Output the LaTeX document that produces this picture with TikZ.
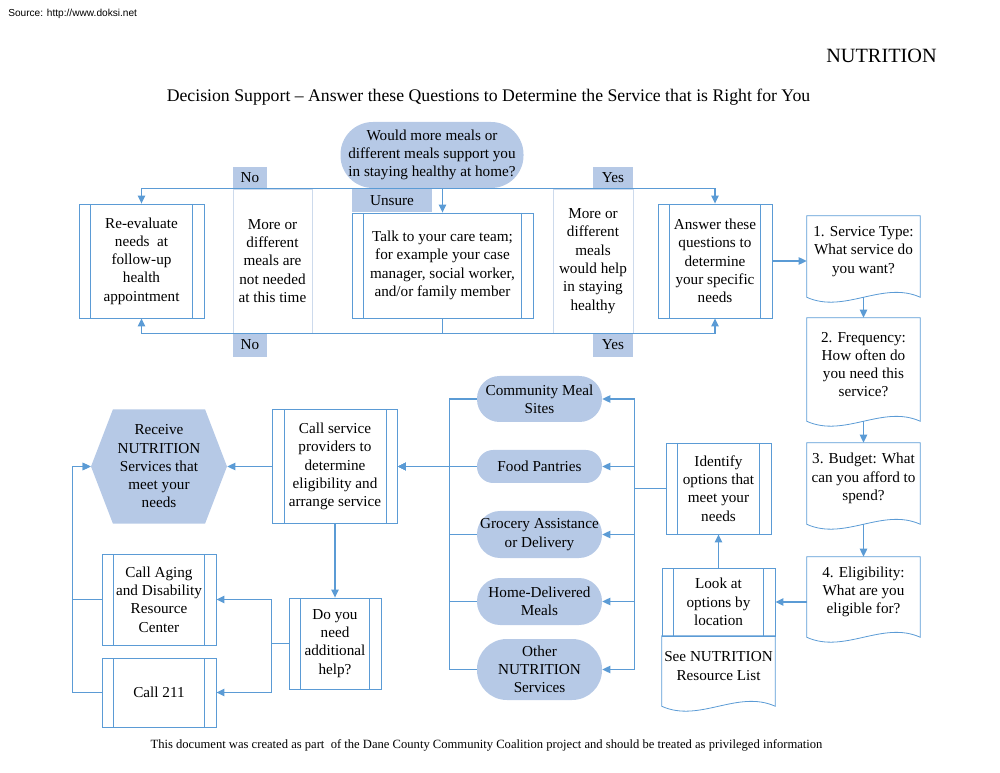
\documentclass[tikz,border=0pt]{standalone}
\usepackage{fontspec}
\setmainfont{Liberation Serif}
\newfontfamily\sourcefont{Liberation Sans}
\usetikzlibrary{shapes.symbols,arrows.meta,calc}
\definecolor{line_blue}{RGB}{91,155,213}
\definecolor{fill_blue}{RGB}{182,201,230}
\definecolor{col_blue}{RGB}{205,218,236}
\newcommand\pxu{0.75pt}
% document shape: frame plus wavy bottom
\newcommand\docwave[1]{%
  \draw[line_blue, line width=0.6pt] (#1.north west) -- (#1.north east)
    -- ([yshift=-10*\pxu]#1.south east)
    .. controls ([xshift=-37.7*\pxu,yshift=7*\pxu]#1.south east)
    and ([xshift=37.7*\pxu,yshift=-27*\pxu]#1.south west)
    .. ([yshift=-10*\pxu]#1.south west) -- cycle;}
\begin{document}
\begin{tikzpicture}[
  x=0.75pt, y=-0.75pt,
  every node/.style={
    font=\fontsize{11.4}{13.7}\selectfont,
    align=center,
    inner sep=0pt
  },
  proc_box/.style 2 args={
    draw=line_blue,
    line width=0.6pt,
    fill=white,
    minimum width=#1*\pxu,
    minimum height=#2*\pxu,
    path picture={
      \draw[line_blue, line width=0.6pt]
        ([xshift=11.5*\pxu]path picture bounding box.north west) -- ([xshift=11.5*\pxu]path picture bounding box.south west)
        ([xshift=-11.5*\pxu]path picture bounding box.north east) -- ([xshift=-11.5*\pxu]path picture bounding box.south east);
    }
  },
  doc_frame/.style 2 args={
    minimum width=#1*\pxu,
    minimum height=#2*\pxu
  },
  option_oval/.style 2 args={
    fill=fill_blue,
    minimum width=#1*\pxu,
    minimum height=#2*\pxu,
    rounded corners=#2*0.49*\pxu
  },
  note_col/.style 2 args={
    draw=col_blue,
    line width=0.5pt,
    minimum width=#1*\pxu,
    minimum height=#2*\pxu
  },
  answer_tag/.style 2 args={
    fill=fill_blue,
    minimum width=#1*\pxu,
    minimum height=#2*\pxu
  },
  hexagon/.style={
    signal,
    signal to=west and east,
    signal pointer angle=138,
    fill=fill_blue,
    minimum width=136*\pxu,
    minimum height=114*\pxu
  },
  flow_arrow/.style={
    draw=line_blue,
    line width=1pt,
    -{Triangle[length=6pt,width=5.5pt]}
  }
]%
\useasboundingbox (0,0) rectangle (1000,773);

\node[font=\sourcefont\fontsize{7.6}{9}\selectfont, anchor=west] (source) at (8,14) {Source: http://www.doksi.net};
\node[font=\fontsize{15.2}{18}\selectfont] (title) at (881.5,56) {NUTRITION};
\node[font=\fontsize{13.3}{16}\selectfont] (subtitle) at (488.5,97) {Decision Support – Answer these Questions to Determine the Service that is Right for You};
\node[font=\fontsize{9.45}{11}\selectfont] (footer) at (486.5,745) {This document was created as part~ of the Dane County Community Coalition project and should be treated as privileged information};

% top row
\node[option_oval={183}{66}] (question) at (432,155) {Would more meals or\\different meals support you\\in staying healthy at home?};
\node[note_col={79}{144}] (no_meals) at (272.5,261) {More or\\different\\meals are\\not needed\\at this time};
\node[note_col={80}{144}] (yes_meals) at (593,261) {More or\\different\\meals\\would help\\in staying\\healthy};
\node[proc_box={125}{114}] (reevaluate) at (141.5,261) {Re-evaluate\\needs~ at\\follow-up\\health\\appointment};
\node[proc_box={181}{105}] (care_team) at (442.5,265.5) {Talk to your care team;\\for example your case\\manager, social worker,\\and/or family member};
\node[proc_box={114}{114}] (answer) at (715,261) {Answer these\\questions to\\determine\\your specific\\needs};

\node[answer_tag={34}{22}] (no_top) at (250,178) {No};
\node[answer_tag={40}{22}] (yes_top) at (613,178) {Yes};
\node[answer_tag={80}{23}] (unsure) at (392,200.5) {Unsure};
\node[answer_tag={34}{24}] (no_bottom) at (250,345) {No};
\node[answer_tag={40}{24}] (yes_bottom) at (613,345) {Yes};

% questions on the right
\node[doc_frame={113}{71}] (service_type) at (863.5,251.5) {1. Service Type:\\What service do\\you want?};
\node[doc_frame={113}{93}] (frequency) at (863.5,364.5) {2. Frequency:\\How often do\\you need this\\service?};
\node[doc_frame={113}{71}] (budget) at (863.5,478.5) {3. Budget: What\\can you afford to\\spend?};
\node[doc_frame={113}{70}] (eligibility) at (863.5,592) {4. Eligibility:\\What are you\\eligible for?};
\docwave{service_type}
\docwave{frequency}
\docwave{budget}
\docwave{eligibility}

\node[proc_box={105}{91}] (identify) at (718.5,488.5) {Identify\\options that\\meet your\\needs};
\node[proc_box={113}{68}] (by_location) at (718.5,602) {Look at\\options by\\location};
\node[doc_frame={113}{60}] (resource_list) at (718.5,666) {See NUTRITION\\Resource List};
\docwave{resource_list}

% service options
\node[option_oval={125}{46}] (meal_sites) at (539.5,399) {Community Meal\\Sites};
\node[option_oval={125}{33}] (pantries) at (539.5,466.5) {Food Pantries};
\node[option_oval={125}{47}] (grocery) at (539.5,534.5) {Grocery Assistance\\or Delivery};
\node[option_oval={125}{47}] (home_meals) at (539.5,601.5) {Home-Delivered\\Meals};
\node[option_oval={125}{61}] (other) at (539.5,669.5) {Other\\NUTRITION\\Services};

% bottom left
\node[proc_box={125}{114}] (call_providers) at (335,466.5) {Call service\\providers to\\determine\\eligibility and\\arrange service};
\node[hexagon] (receive) at (159,466.5) {Receive\\NUTRITION\\Services that\\meet your\\needs};
\node[proc_box={92}{91}] (additional_help) at (335,643.5) {Do you\\need\\additional\\help?};
\node[proc_box={114}{91}] (aging) at (159,599.5) {Call Aging\\and Disability\\Resource\\Center};
\node[proc_box={114}{69}] (call_211) at (159,692.5) {Call 211};

% connectors
\draw[flow_arrow] (question.south) -| (reevaluate.north);
\draw[flow_arrow] (question.south) -| (answer.north);
\draw[flow_arrow] (question.south) -| (care_team.north);
\draw[flow_arrow] (care_team.south) -- ++(0,15) -| (reevaluate.south);
\draw[flow_arrow] (care_team.south) -- ++(0,15) -| (answer.south);
\draw[flow_arrow] (answer.east) -- (answer.east -| service_type.west);
\draw[flow_arrow] ([yshift=-10*\pxu]service_type.south) -- (frequency.north);
\draw[flow_arrow] ([yshift=-10*\pxu]frequency.south) -- (budget.north);
\draw[flow_arrow] ([yshift=-10*\pxu]budget.south) -- (eligibility.north);
\draw[flow_arrow] (eligibility.west |- by_location.east) -- (by_location.east);
\draw[flow_arrow] (by_location.north) -- (identify.south);
\foreach \opt in {meal_sites,pantries,grocery,home_meals,other}
  \draw[flow_arrow] (identify.west) -- ++(-31,0) |- (\opt.east);
\foreach \opt in {meal_sites,pantries,grocery,home_meals,other}
  \draw[flow_arrow] (\opt.west) -- ++(-27,0) |- (call_providers.east);
\draw[flow_arrow] (call_providers.west) -- (receive.east);
\draw[flow_arrow] (call_providers.south) -- (additional_help.north);
\foreach \help in {aging,call_211}
  \draw[flow_arrow] (additional_help.west) -- ++(-17,0) |- (\help.east);
\foreach \help in {aging,call_211}
  \draw[flow_arrow] (\help.west) -- ++(-29,0) |- (receive.west);
\end{tikzpicture}
\end{document}
